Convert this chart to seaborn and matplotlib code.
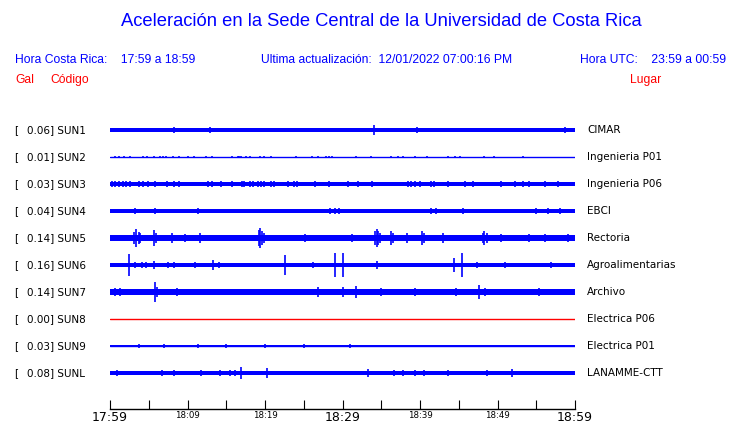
import numpy as np
import pandas as pd
import matplotlib
matplotlib.use('Agg')
import matplotlib.pyplot as plt
import matplotlib.transforms as mtransforms
import seaborn as sns

# station table
codes = ['SUN1', 'SUN2', 'SUN3', 'SUN4', 'SUN5', 'SUN6', 'SUN7', 'SUN8', 'SUN9', 'SUNL']
places = ['CIMAR', 'Ingenieria P01', 'Ingenieria P06', 'EBCI', 'Rectoria',
          'Agroalimentarias', 'Archivo', 'Electrica P06', 'Electrica P01', 'LANAMME-CTT']
peak_gal = [0.06, 0.01, 0.03, 0.04, 0.14, 0.16, 0.14, 0.00, 0.03, 0.08]
noise_gal = [0.028, 0.0, 0.03, 0.026, 0.048, 0.024, 0.045, 0.0, 0.02, 0.026]

# spikes: minutes after 17:59, half amplitude in Gal
sun1_min = [8.2, 12.9, 34.0, 39.6, 58.7]
sun1_amp = [0.05, 0.045, 0.07, 0.04, 0.04]
sun2_min = [0.6, 1.2, 1.8, 2.6, 4.3, 4.8, 5.7, 6.5, 6.8, 7.2, 8.1, 8.9, 10.0, 10.9, 12.4,
            13.2, 15.7, 16.5, 16.7, 16.9, 17.6, 18.1, 19.4, 19.9, 20.8, 24.0, 26.1, 26.9,
            27.9, 28.3, 28.7, 31.7, 33.7, 36.2, 37.1, 37.8, 39.3, 40.9, 43.6, 44.5, 45.1,
            48.3, 49.5, 53.3]
sun2_amp = [0.014, 0.014, 0.014, 0.017, 0.014, 0.014, 0.017, 0.02, 0.02, 0.02, 0.014,
            0.014, 0.014, 0.014, 0.014, 0.014, 0.014, 0.02, 0.02, 0.02, 0.017, 0.014,
            0.014, 0.014, 0.014, 0.014, 0.014, 0.014, 0.017, 0.017, 0.017, 0.014, 0.014,
            0.014, 0.014, 0.014, 0.014, 0.014, 0.017, 0.014, 0.014, 0.014, 0.014, 0.014]
sun3_min = [0.3, 0.6, 1.1, 1.7, 2.0, 2.6, 3.7, 4.3, 4.9, 5.8, 7.3, 8.3, 8.9, 12.6, 13.1,
            14.3, 15.7, 17.0, 17.3, 18.1, 18.4, 19.1, 19.5, 19.9, 20.8, 21.1, 23.0, 23.7,
            24.1, 26.4, 28.2, 30.7, 32.0, 33.8, 38.5, 38.9, 39.3, 40.0, 41.4, 41.8, 43.6,
            45.8, 46.9, 50.5, 52.3, 53.3, 54.0, 56.1, 57.8]
sun3_amp = [0.04] * 9 + [0.046] + [0.04] * 23 + [0.046] + [0.04] * 15
sun4_min = [0.1, 0.6, 1.3, 1.7, 3.2, 4.1, 5.3, 5.8, 6.2, 7.0, 7.7, 8.4, 9.0, 10.6, 11.3,
            12.0, 17.2, 19.8, 21.6, 24.9, 25.7, 28.4, 29.0, 29.5, 31.1, 32.3, 34.2, 35.0,
            36.4, 38.8, 40.5, 41.4, 41.7, 42.1, 42.6, 43.0, 43.9, 44.3, 45.5, 45.8, 46.2,
            55.0, 56.1, 56.5, 58.1, 58.9]
sun4_amp = [0.036, 0.036, 0.036, 0.036, 0.044, 0.036, 0.036, 0.04, 0.036, 0.036, 0.036,
            0.036, 0.036, 0.036, 0.04, 0.036, 0.036, 0.036, 0.036, 0.036, 0.036, 0.04,
            0.046, 0.04, 0.036, 0.036, 0.036, 0.036, 0.036, 0.036, 0.036, 0.04, 0.036,
            0.04, 0.036, 0.036, 0.036, 0.036, 0.04, 0.036, 0.036, 0.05, 0.036, 0.044,
            0.044, 0.036]
sun5_min = [3.1, 3.4, 3.7, 3.9, 5.7, 5.9, 8.0, 9.7, 11.6, 19.2, 19.4, 19.6, 19.9, 25.2,
            31.2, 34.2, 34.4, 34.6, 34.9, 36.3, 36.5, 38.3, 40.3, 40.5, 43.0, 48.1, 48.3,
            48.6, 50.5, 54.0, 56.1, 59.1]
sun5_amp = [0.09, 0.13, 0.09, 0.07, 0.12, 0.07, 0.07, 0.065, 0.07, 0.12, 0.15, 0.11, 0.08,
            0.065, 0.065, 0.1, 0.13, 0.1, 0.08, 0.11, 0.08, 0.08, 0.11, 0.08, 0.07, 0.08,
            0.11, 0.08, 0.065, 0.065, 0.065, 0.065]
sun6_min = [2.5, 3.2, 4.1, 4.7, 5.7, 7.5, 8.2, 11.0, 13.3, 14.0, 22.6, 26.2, 29.0, 30.1,
            34.4, 44.4, 45.4, 47.3, 51.0, 56.9]
sun6_amp = [0.16, 0.045, 0.04, 0.04, 0.06, 0.045, 0.045, 0.045, 0.07, 0.045, 0.14, 0.045,
            0.17, 0.17, 0.06, 0.10, 0.18, 0.045, 0.04, 0.05]
sun7_min = [0.6, 1.3, 5.8, 6.1, 8.6, 26.9, 30.1, 31.7, 35.0, 39.3, 44.7, 47.6, 48.4, 55.3]
sun7_amp = [0.06, 0.06, 0.15, 0.08, 0.06, 0.08, 0.08, 0.09, 0.06, 0.06, 0.06, 0.11, 0.06,
            0.055]
sun8_min = []
sun8_amp = []
sun9_min = [3.7, 7.0, 11.4, 15.0, 20.0, 25.0, 31.0]
sun9_amp = [0.026, 0.026, 0.034, 0.026, 0.026, 0.026, 0.026]
sunl_min = [0.9, 1.7, 3.9, 6.7, 8.2, 8.8, 10.3, 11.8, 13.1, 14.2, 15.5, 16.1, 16.9, 18.3,
            20.3, 22.1, 22.8, 25.1, 26.5, 28.0, 29.0, 32.3, 33.3, 34.7, 36.6, 37.8, 39.3,
            40.5, 43.6, 44.9, 45.8, 48.6, 49.5, 51.9, 52.7]
sunl_amp = [0.045, 0.035, 0.035, 0.04, 0.04, 0.035, 0.035, 0.05, 0.035, 0.04, 0.05, 0.05,
            0.095, 0.035, 0.07, 0.035, 0.035, 0.035, 0.035, 0.035, 0.035, 0.03, 0.06, 0.03,
            0.04, 0.05, 0.04, 0.05, 0.05, 0.035, 0.035, 0.05, 0.035, 0.06, 0.03]

spike_min = [sun1_min, sun2_min, sun3_min, sun4_min, sun5_min,
             sun6_min, sun7_min, sun8_min, sun9_min, sunl_min]
spike_amp = [sun1_amp, sun2_amp, sun3_amp, sun4_amp, sun5_amp,
             sun6_amp, sun7_amp, sun8_amp, sun9_amp, sunl_amp]

tick_min = list(range(0, 61, 5))
tick_lbl = ['17:59', '', '18:09', '', '18:19', '', '18:29', '', '18:39', '', '18:49', '', '18:59']
big_lbl = ['17:59', '18:29', '18:59']

BLUE = '#0000ff'
RED = '#ff0000'
gain = 68 / 27  # rows per Gal

sns.set_theme(style='white')
plt.rcParams['font.family'] = ['DejaVu Sans']

fig = plt.figure(figsize=(7.4, 4.23), dpi=100)
W, H = 740, 423
ax = fig.add_axes([110 / W, 1 - 409 / H, 465 / W, (409 - 114) / H])

# base lines through seaborn
rows = []
for i, c in enumerate(codes):
    rows.append({'station': c, 'minute': 0, 'row': i})
    rows.append({'station': c, 'minute': 60, 'row': i})
df = pd.DataFrame(rows)
pal = {c: (RED if peak_gal[i] == 0 else BLUE) for i, c in enumerate(codes)}
sns.lineplot(data=df, x='minute', y='row', hue='station', palette=pal,
             lw=1.0, legend=False, ax=ax, estimator=None, sort=False)

for i in range(len(codes)):
    if noise_gal[i] > 0:
        b = noise_gal[i] * gain
        ax.fill_between([0, 60], i - b, i + b, color=BLUE, lw=0)
    if spike_min[i]:
        a = np.array(spike_amp[i]) * gain
        ax.vlines(spike_min[i], i - a, i + a, color=BLUE, lw=1.2)

ax.set_xlim(0, 60)
ax.set_ylim((409 - 130) / 27, (114 - 130) / 27)
ax.set_xlabel('')
ax.set_ylabel('')
ax.set_yticks([])
for s in ['left', 'right', 'top']:
    ax.spines[s].set_visible(False)
ax.spines['bottom'].set_color('black')
ax.spines['bottom'].set_linewidth(1.0)
ax.set_xticks(tick_min)
ax.set_xticklabels(tick_lbl)
ax.tick_params(axis='x', direction='in', length=6.5, width=0.8, color='black',
               pad=1.5, bottom=True)
for t in ax.get_xticklabels():
    t.set_fontsize(9 if t.get_text() in big_lbl else 6.2)
    t.set_verticalalignment('top')
    t.set_color('black')

# station labels
tr = mtransforms.blended_transform_factory(fig.transFigure, ax.transData)
for i, c in enumerate(codes):
    ax.text(14 / W, i, '[', transform=tr, fontsize=7.5, va='center', ha='left', color='black')
    ax.text(27 / W, i, f'{peak_gal[i]:.2f}] {c}', transform=tr, fontsize=7.5,
            va='center', ha='left', color='black')
    ax.text(587 / W, i, places[i], transform=tr, fontsize=7.5, va='center', ha='left',
            color='black')

hf = 'Liberation Sans'
fig.text(381 / W, 1 - 22 / H, 'Aceleración en la Sede Central de la Universidad de Costa Rica',
         ha='center', va='center', fontsize=13.2, color=BLUE, family=hf)
fig.text(15 / W, 1 - 60 / H, 'Hora Costa Rica:    17:59 a 18:59', ha='left', va='center',
         fontsize=8.7, color=BLUE, family=hf)
fig.text(261 / W, 1 - 60 / H, 'Ultima actualización:  12/01/2022 07:00:16 PM', ha='left',
         va='center', fontsize=8.7, color=BLUE, family=hf)
fig.text(580 / W, 1 - 60 / H, 'Hora UTC:    23:59 a 00:59', ha='left', va='center',
         fontsize=8.7, color=BLUE, family=hf)
fig.text(15 / W, 1 - 80 / H, 'Gal', ha='left', va='center', fontsize=8.7, color=RED, family=hf)
fig.text(50 / W, 1 - 80 / H, 'Código', ha='left', va='center', fontsize=8.7, color=RED, family=hf)
fig.text(630 / W, 1 - 80 / H, 'Lugar', ha='left', va='center', fontsize=8.7, color=RED, family=hf)

fig.savefig('out.png', dpi=100, facecolor='white')
